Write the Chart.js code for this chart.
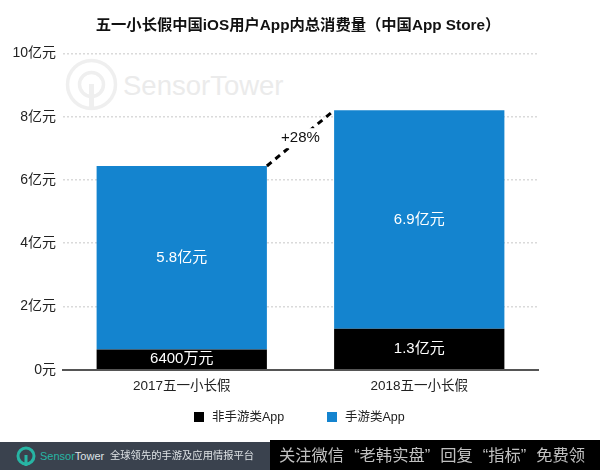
<!DOCTYPE html>
<html>
<head>
<meta charset="utf-8">
<title>五一小长假中国iOS用户App内总消费量</title>
<script src="https://cdn.jsdelivr.net/npm/chart.js@4"></script>
<style>
  html, body { margin: 0; padding: 0; background: #fff; }
  body { width: 600px; height: 470px; position: relative; overflow: hidden; font-family: "Liberation Sans", "Noto Sans CJK SC", sans-serif; }
  #chartBox { position: absolute; left: 0; top: 0; width: 600px; height: 470px; }
  #watermark { position: absolute; left: 62px; top: 52px; }
  #legend { position: absolute; top: 408px; left: 0; width: 100%; height: 18px; font-size: 12.5px; line-height: 18px; color: #222; }
  #legend span { position: absolute; top: 0; white-space: nowrap; }
  #legend i { position: absolute; top: 4px; width: 10px; height: 10px; }
  #footLeft { position: absolute; left: 0; top: 442px; width: 270px; height: 28px; background: #3a424e; color: #dfe3e6; }
  #footRight { position: absolute; left: 270px; top: 440px; width: 330px; height: 30px; background: #000; color: #c0c0c0; font-size: 16.3px; line-height: 30px; padding-left: 9px; word-spacing: 5.5px; white-space: nowrap; box-sizing: border-box; }
  #footLeft svg { position: absolute; left: 16px; top: 4px; }
  #brand { position: absolute; left: 40px; top: 0; font: 11px/28px "Liberation Sans", sans-serif; }
  #brand b { font-weight: normal; color: #27b5a4; }
  #slogan { position: absolute; left: 110px; top: 0; line-height: 28px; font-size: 10.3px; white-space: nowrap; }
</style>
</head>
<body>
<!-- watermark sits behind the transparent canvas -->
<svg id="watermark" width="240" height="70">
  <circle cx="29.5" cy="32.5" r="24" fill="none" stroke="#efefef" stroke-width="3.5"/>
  <circle cx="29.5" cy="32.5" r="12" fill="none" stroke="#efefef" stroke-width="3.5"/>
  <line x1="29.5" y1="32" x2="29.5" y2="56" stroke="#efefef" stroke-width="5"/>
  <text x="61" y="43" font-family="Liberation Sans" font-size="27.5" fill="#ebebeb">SensorTower</text>
</svg>
<div id="chartBox"><canvas id="myChart"></canvas></div>
<div id="legend"></div>
<div id="footLeft">
  <svg width="20" height="22" viewBox="0 0 20 22">
    <circle cx="10" cy="10" r="8" fill="none" stroke="#27b5a4" stroke-width="3"/>
    <line x1="10" y1="9" x2="10" y2="20" stroke="#27b5a4" stroke-width="3"/>
  </svg>
  <div id="brand"><b>Sensor</b>Tower</div>
  <div id="slogan">全球领先的手游及应用情报平台</div>
</div>
<div id="footRight">关注微信 “老韩实盘” 回复 “指标” 免费领</div>

<script>
// Chart data, in 亿元
const categories = ['2017五一小长假', '2018五一小长假'];
const nonGameValues = [0.64, 1.3];
const gameValues = [5.8, 6.9];
const nonGameLabels = ['6400万元', '1.3亿元'];
const gameLabels = ['5.8亿元', '6.9亿元'];
const yTickValues = [0, 2, 4, 6, 8, 10];
const yTickLabels = ['0元', '2亿元', '4亿元', '6亿元', '8亿元', '10亿元'];
const growthLabel = '+28%';

const fontName = '"Liberation Sans", "Noto Sans CJK SC", sans-serif';

// Writes the value labels inside the bars
const barLabelPlugin = {
    id: 'barLabels',
    afterDatasetsDraw(chart) {
        const ctx = chart.ctx;
        const allLabels = [nonGameLabels, gameLabels];
        ctx.save();
        ctx.fillStyle = '#fff';
        ctx.textAlign = 'center';
        ctx.textBaseline = 'middle';
        ctx.font = '15px ' + fontName;
        allLabels.forEach(function (labels, i) {
            chart.getDatasetMeta(i).data.forEach(function (bar, j) {
                ctx.fillText(labels[j], bar.x, (bar.y + bar.base) / 2);
            });
        });
        ctx.restore();
    }
};

// Dashed connector between the tops of the two stacks, broken by the label
const growthPlugin = {
    id: 'growthLine',
    afterDatasetsDraw(chart) {
        const ctx = chart.ctx;
        const tops = chart.getDatasetMeta(1).data;
        const x1 = tops[0].x + tops[0].width / 2;
        const x2 = tops[1].x - tops[1].width / 2;
        const midX = (x1 + x2) / 2;
        const midY = (tops[0].y + tops[1].y) / 2;
        ctx.save();
        ctx.strokeStyle = '#000';
        ctx.lineWidth = 3;
        ctx.setLineDash([6, 5]);
        ctx.beginPath();
        ctx.moveTo(x1, tops[0].y);
        ctx.lineTo(x2, tops[1].y);
        ctx.stroke();
        ctx.setLineDash([]);
        ctx.fillStyle = '#fff';
        ctx.fillRect(midX - 21, midY - 10, 42, 20);
        ctx.fillStyle = '#111';
        ctx.textAlign = 'center';
        ctx.textBaseline = 'middle';
        ctx.font = '15px "Liberation Sans", sans-serif';
        ctx.fillText(growthLabel, midX, midY);
        ctx.restore();
    }
};

const ctx = document.getElementById('myChart').getContext('2d');

const myChart = new Chart(ctx, {
    type: 'bar',
    data: {
        labels: categories,
        datasets: [
            { label: '非手游类App', data: nonGameValues, backgroundColor: '#000000' },
            { label: '手游类App', data: gameValues, backgroundColor: '#1484cf' }
        ]
    },
    options: {
        responsive: true,
        maintainAspectRatio: false,
        animation: false,
        layout: { padding: { left: 0, right: 4, top: 0, bottom: 76 } },
        datasets: { bar: { categoryPercentage: 1, barPercentage: 0.717 } },
        scales: {
            x: {
                stacked: true,
                grid: { display: false },
                border: { color: '#555', width: 2 },
                ticks: { color: '#222', font: { family: fontName, size: 13.5 }, padding: 0 }
            },
            y: {
                stacked: true,
                min: 0,
                max: 10,
                afterFit(scale) { scale.width = 63; },
                afterBuildTicks(scale) {
                    scale.ticks = yTickValues.map(function (v) { return { value: v }; });
                },
                border: { display: false, dash: [2, 2] },
                grid: {
                    drawTicks: false,
                    color: function (c) { return c.tick.value === 0 ? 'rgba(0,0,0,0)' : '#dadada'; },
                    lineWidth: 1.5
                },
                ticks: {
                    color: '#222',
                    padding: 7,
                    font: { family: fontName, size: 14 },
                    callback: function (value) { return yTickLabels[yTickValues.indexOf(value)]; }
                }
            },
            // empty axis on the right, only there to keep the plot narrower than the title
            spacer: {
                position: 'right',
                afterFit(scale) { scale.width = 58; },
                grid: { display: false },
                border: { display: false },
                ticks: { display: false }
            }
        },
        plugins: {
            tooltip: { enabled: false },
            title: {
                display: true,
                text: '五一小长假中国iOS用户App内总消费量（中国App Store）',
                color: '#111',
                font: { family: fontName, size: 15.3, weight: 'bold' },
                padding: { top: 17, bottom: 18 }
            },
            legend: { display: false }
        }
    },
    plugins: [barLabelPlugin, growthPlugin]
});

// Legend built from the chart's own datasets, spaced like the original
const legendBox = document.getElementById('legend');
const legendLefts = [194, 327];
myChart.data.datasets.forEach(function (dataset, i) {
    const box = document.createElement('i');
    box.style.left = legendLefts[i] + 'px';
    box.style.background = dataset.backgroundColor;
    const text = document.createElement('span');
    text.style.left = (legendLefts[i] + 18) + 'px';
    text.textContent = dataset.label;
    legendBox.appendChild(box);
    legendBox.appendChild(text);
});
</script>
</body>
</html>
